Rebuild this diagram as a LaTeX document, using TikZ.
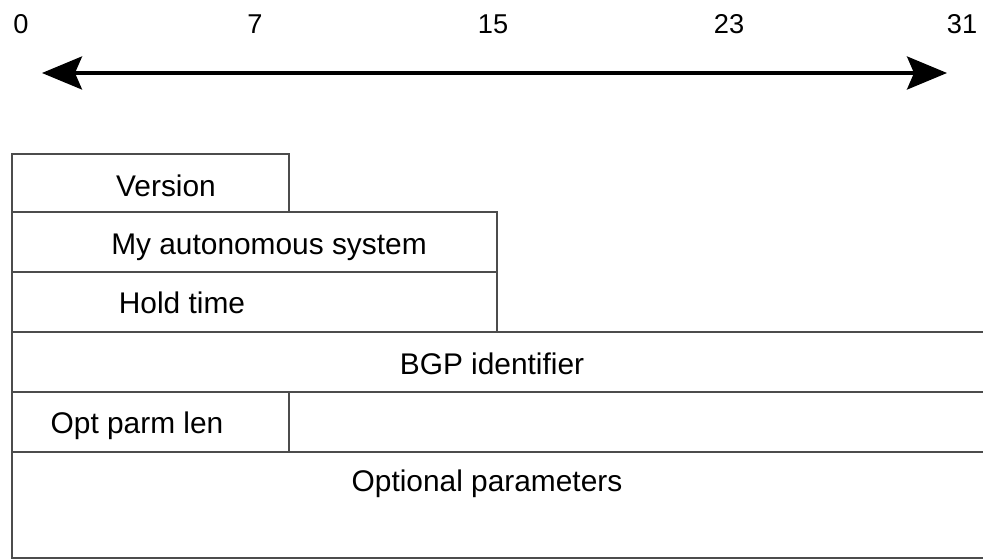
\documentclass[tikz,border=0pt]{standalone}
\usepackage{fontspec}
\setmainfont{Liberation Sans}
\usetikzlibrary{arrows.meta, positioning}
\tikzset{
  field/.style={
    rectangle, draw=black!70, line width=1.1pt, fill=white,
    inner sep=0pt, outer sep=0pt, minimum height=1.2cm
  },
  fieldlabel/.style={
    anchor=base, inner sep=0pt, font=\fontsize{17}{20}\selectfont
  },
  bitlabel/.style={
    anchor=base, inner sep=0pt, font=\fontsize{15.5}{18}\selectfont
  },
  bitspan/.style={
    arrows={Stealth[length=8mm, width=6.6mm, inset=1.4mm]-Stealth[length=8mm, width=6.6mm, inset=1.4mm]},
    line width=1.9pt, draw=black
  },
}

\begin{document}
\begin{tikzpicture}[x=0.02cm, y=-0.02cm]
    \useasboundingbox (0,0) rectangle (983,560);
    \fill[white] (0,0) rectangle (983,560);

    %% Bit positions
    \node[bitlabel] (b0)  at (21,34)  {0};
    \node[bitlabel] (b7)  at (255,34) {7};
    \node[bitlabel] (b15) at (493,34) {15};
    \node[bitlabel] (b23) at (729,34) {23};
    \node[bitlabel] (b31) at (962,34) {31};

    %% Word width arrow
    \coordinate (lend) at (42,73);
    \coordinate (rend) at (947,73);
    \draw[bitspan] (lend) -- (rend);

    %% Header fields
    \node[field, anchor=north west, minimum width=5.54cm, minimum height=1.16cm] (ver) at (12,154) {};
    \node[field, minimum width=9.7cm, below=0pt of ver.south west, anchor=north west] (myas) {};
    \node[field, minimum width=9.7cm, below=0pt of myas.south west, anchor=north west] (hold) {};
    \node[field, minimum width=19.44cm, below=0pt of hold.south west, anchor=north west] (bgpid) {};
    \node[field, minimum width=5.54cm, below=0pt of bgpid.south west, anchor=north west] (optlen) {};
    \node[field, minimum width=13.9cm, right=0pt of optlen, anchor=west] (optrest) {};
    \node[field, minimum width=19.44cm, minimum height=2.12cm, below=0pt of optlen.south west, anchor=north west] (optpar) {};

    %% Field names
    \node[fieldlabel] (lver)    at (166,197) {Version};
    \node[fieldlabel] (lmyas)   at (269,255) {My autonomous system};
    \node[fieldlabel] (lhold)   at (182,314) {Hold time};
    \node[fieldlabel] (lbgpid)  at (492,374) {BGP identifier};
    \node[fieldlabel] (loptlen) at (137,433) {Opt parm len};
    \node[fieldlabel] (loptpar) at (487,491) {Optional parameters};

  \end{tikzpicture}
\end{document}
